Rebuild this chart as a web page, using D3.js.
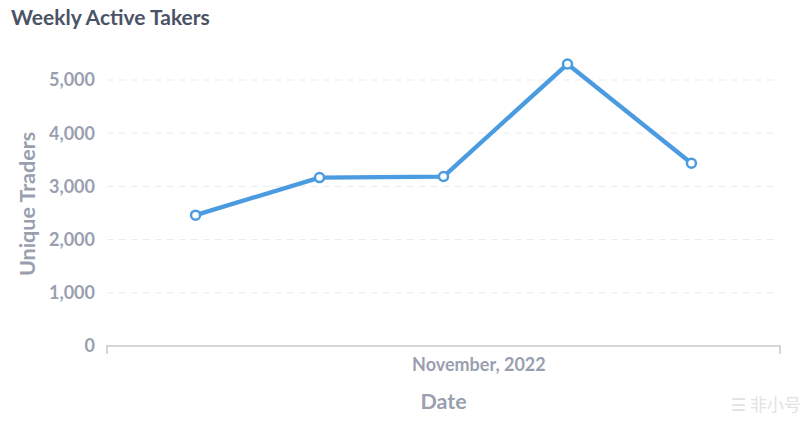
<!DOCTYPE html>
<html>
<head>
<meta charset="utf-8">
<script src="https://cdn.jsdelivr.net/npm/d3@7/dist/d3.min.js"></script>
<style>
  html, body { margin: 0; padding: 0; background: #fff; }
  svg { display: block; font-family: Lato, "Noto Sans", sans-serif; }
</style>
</head>
<body>
<svg id="chart" width="808" height="423"></svg>
<script>
const dates = ["2022-10-31", "2022-11-07", "2022-11-14", "2022-11-21", "2022-11-28"];
const traders = [2460, 3165, 3185, 5300, 3435];
const yTicks = [0, 1000, 2000, 3000, 4000, 5000];
const xLabel = "November, 2022";
const xLabelDate = "2022-11-16";
const title = "Weekly Active Takers";

const parse = d3.utcParse("%Y-%m-%d");
const data = dates.map((d, i) => ({ date: parse(d), value: traders[i] }));

const svg = d3.select("#chart");
const x = d3.scaleUtc()
  .domain([parse("2022-10-26"), parse("2022-12-03")])
  .range([107, 780]);
const y = d3.scaleLinear().domain([0, 5000]).range([346, 80]);

// title
svg.append("text")
  .attr("x", 11).attr("y", 25)
  .attr("font-size", 21).attr("font-weight", 700)
  .attr("fill", "#4b5366")
  .text(title);

// gridlines
svg.append("g").selectAll("line")
  .data(yTicks.filter(t => t > 0))
  .join("line")
  .attr("x1", 107).attr("x2", 780)
  .attr("y1", d => y(d)).attr("y2", d => y(d))
  .attr("stroke", "#ececef").attr("stroke-width", 1)
  .attr("stroke-dasharray", "7,5");

// y tick labels
svg.append("g").selectAll("text")
  .data(yTicks)
  .join("text")
  .attr("x", 95).attr("y", d => y(d))
  .attr("dy", "0.35em")
  .attr("text-anchor", "end")
  .attr("font-size", 18).attr("font-weight", 700)
  .attr("fill", "#9a9fb0")
  .text(d => d3.format(",")(d));

// x axis line with end ticks
const xa = svg.append("g");
xa.append("path")
  .attr("d", `M${x.range()[0]},354V${y(0)}H${x.range()[1]}V354`)
  .attr("fill", "none").attr("stroke", "#c9c9cc").attr("stroke-width", 1.5);

// x label
svg.append("text")
  .attr("x", x(parse(xLabelDate))).attr("y", 371)
  .attr("text-anchor", "middle")
  .attr("font-size", 18).attr("font-weight", 700)
  .attr("fill", "#9a9fb0")
  .text(xLabel);

// axis titles
svg.append("text")
  .attr("x", (x.range()[0] + x.range()[1]) / 2).attr("y", 409)
  .attr("text-anchor", "middle")
  .attr("font-size", 21.5).attr("font-weight", 700)
  .attr("fill", "#9a9fb0")
  .text("Date");

svg.append("text")
  .attr("transform", "translate(35,204) rotate(-90)")
  .attr("text-anchor", "middle")
  .attr("font-size", 21.5).attr("font-weight", 700)
  .attr("fill", "#9a9fb0")
  .text("Unique Traders");

// line
const line = d3.line().x(d => x(d.date)).y(d => y(d.value));
svg.append("path")
  .datum(data)
  .attr("d", line)
  .attr("fill", "none")
  .attr("stroke", "#4b9be0")
  .attr("stroke-width", 4.3)
  .attr("stroke-linejoin", "round");

svg.append("g").selectAll("circle")
  .data(data)
  .join("circle")
  .attr("cx", d => x(d.date)).attr("cy", d => y(d.value))
  .attr("r", 4.5)
  .attr("fill", "#fff")
  .attr("stroke", "#4b9be0")
  .attr("stroke-width", 2.5);

// watermark
svg.append("text")
  .attr("x", 801).attr("y", 411)
  .attr("text-anchor", "end")
  .attr("font-family", "'Noto Sans CJK SC', sans-serif")
  .attr("font-size", 17)
  .attr("fill", "#e2e2e2")
  .text("☰ 非小号");
</script>
</body>
</html>
